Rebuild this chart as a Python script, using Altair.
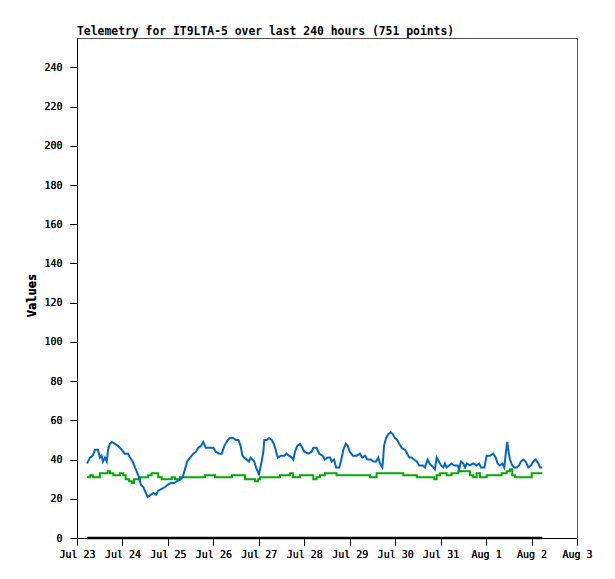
import altair as alt
import pandas as pd

# hours since Jul 23 00:00
blue_hours = [5.3, 6.9, 8.3, 9.5, 11.1, 12.1, 13.0, 13.7, 14.8, 15.7, 16.4, 17.4, 18.5, 20.1, 21.6, 23.6,
              25.3, 26.9, 28.0, 29.4, 30.6, 31.5, 32.7, 33.8, 35.0, 36.3, 37.3, 38.9, 40.3, 41.7, 42.8,
              44.7, 46.5, 47.7, 49.5, 51.2, 53.0, 54.8, 55.8, 57.0, 58.2, 59.7, 61.4, 62.8, 64.0, 65.5,
              66.7, 68.0, 70.2, 72.0, 73.2, 75.0, 76.4, 77.8, 79.6, 80.8, 82.5, 83.8, 85.2, 86.4, 87.3,
              88.3, 89.6, 90.8, 91.7, 92.6, 93.6, 94.5, 95.4, 96.1, 96.6, 97.5, 98.4, 98.9, 100.2, 101.4,
              102.8, 104.0, 104.9, 106.0, 107.7, 109.5, 110.7, 111.9, 113.4, 114.2, 115.1, 116.3, 117.7,
              119.0, 120.0, 122.1, 123.9, 124.8, 126.5, 127.9, 129.7, 130.9, 132.2, 133.6, 134.5, 135.7,
              136.8, 138.5, 139.8, 140.6, 141.9, 142.9, 144.1, 145.6, 147.7, 149.4, 150.6, 152.1, 153.3,
              155.1, 156.5, 157.9, 159.1, 160.0, 161.2, 161.7, 162.1, 163.2, 164.4, 165.6, 166.7, 167.9,
              169.1, 170.2, 171.4, 173.2, 174.4, 175.5, 176.7, 177.9, 179.4, 180.7, 182.5, 183.7, 185.1,
              186.1, 188.1, 189.0, 189.9, 191.1, 192.2, 193.4, 194.3, 195.2, 196.4, 197.8, 199.2, 201.0,
              201.7, 202.8, 204.0, 204.9, 205.8, 207.5, 209.2, 211.0, 212.3, 213.3, 215.1, 216.3, 218.1,
              219.8, 221.1, 222.1, 223.3, 224.6, 225.6, 226.5, 227.2, 227.7, 228.6, 229.8, 230.9, 232.2,
              233.4, 234.4, 235.6, 236.9, 238.3, 239.7, 240.9, 242.2, 243.6, 244.5, 245.7]
blue_values = [38, 41, 42, 45, 45, 41, 42, 39, 41, 39, 45, 48, 49, 48, 47, 45,
               43, 43, 41, 39, 36, 34, 31, 27, 26, 23, 21, 22, 23, 22, 24,
               25, 26, 27, 28, 28, 29, 30, 31, 35, 39, 41, 43, 44, 46, 47,
               49, 46, 46, 46, 44, 43, 43, 47, 50, 51, 51, 50, 50, 47, 42,
               41, 40, 39, 41, 40, 39, 36, 34, 32, 35, 39, 44, 50, 50, 51,
               50, 48, 45, 41, 42, 42, 43, 42, 41, 40, 44, 47, 48,
               46, 44, 43, 44, 46, 46, 43, 42, 40, 41, 41, 39, 40,
               36, 36, 41, 45, 48, 47, 44, 42, 42, 43, 41, 42, 40,
               40, 39, 39, 41, 38, 36, 41, 47, 51, 53, 54, 53, 51,
               50, 48, 46, 45, 43, 41, 41, 40, 39, 37, 37, 36, 40,
               38, 36, 35, 41, 39, 37, 36, 38, 36, 37, 38, 37, 37,
               35, 39, 38, 36, 38, 37, 38, 37, 38, 36, 36, 42, 42,
               43, 41, 38, 37, 38, 36, 44, 49, 45, 40, 37, 36, 36,
               37, 39, 40, 39, 36, 37, 39, 40, 38, 36, 36]

green_hours = [5.3, 6.9, 8.4, 12.1, 16.2, 17.4, 19.2, 22.7, 24.4, 25.7, 27.5, 28.9, 30.1, 33.3, 37.6,
               39.4, 42.9, 44.7, 50.0, 51.7, 54.4, 67.6, 72.9, 81.8, 88.7, 94.0, 95.6, 96.6, 107.2,
               112.5, 114.0, 117.7, 124.8, 126.5, 128.3, 130.9, 137.1, 154.7, 158.2, 172.3, 179.4,
               188.6, 189.9, 191.7, 195.2, 197.8, 201.3, 207.5, 209.2, 211.0, 212.8, 216.3, 224.2,
               226.9, 228.6, 229.8, 231.2, 240.1, 245.7]
green_values = [31, 32, 31, 33, 34, 33, 32, 33, 32, 30, 29, 28, 30, 31, 32,
                33, 31, 30, 31, 30, 31, 32, 31, 32, 30, 29, 30, 31, 32,
                33, 31, 32, 30, 31, 32, 33, 32, 31, 33, 32, 31,
                30, 32, 33, 32, 33, 34, 32, 31, 33, 31, 32, 33,
                34, 35, 32, 31, 33, 33]

zero_hours = [5.3, 245.7]
zero_values = [0, 0]

tick_hours = [0, 24, 48, 72, 96, 120, 144, 168, 192, 216, 240, 264]
tick_labels = ["Jul 23", "Jul 24", "Jul 25", "Jul 26", "Jul 27", "Jul 28", "Jul 29",
               "Jul 30", "Jul 31", "Aug 1", "Aug 2", "Aug 3"]
y_ticks = list(range(0, 241, 20))

blue_df = pd.DataFrame({"h": blue_hours, "v": blue_values})
green_df = pd.DataFrame({"h": green_hours, "v": green_values})
zero_df = pd.DataFrame({"h": zero_hours, "v": zero_values})

label_js = "[" + ",".join("'%s'" % t for t in tick_labels) + "]"

mono = "DejaVu Sans Mono"

x_scale = alt.Scale(domain=[0, 264], nice=False, zero=False)
y_scale = alt.Scale(domain=[0, 255], nice=False)

x_enc = alt.X("h:Q", scale=x_scale,
              axis=alt.Axis(values=tick_hours, labelExpr=label_js + "[round(datum.value/24)]",
                            title=None, grid=False, domainColor="black", tickColor="black",
                            tickSize=7, labelPadding=4, labelFont=mono, labelFontSize=10,
                            labelColor="black", labelFlush=False, labelOverlap=False))
y_enc = alt.Y("v:Q", scale=y_scale,
              axis=alt.Axis(values=y_ticks, title="Values", grid=False, domainColor="black",
                            tickColor="black", tickSize=7, labelPadding=8, labelFont=mono,
                            labelFontSize=10, labelColor="black", titleFont=mono,
                            titleFontSize=12, titleFontWeight="bold", titleColor="black",
                            titleX=-46, titleY=257, titleAngle=270, titleAlign="center",
                            titleBaseline="middle"))

# frame on top and right as bare axes
x_top = alt.X("h:Q", scale=x_scale,
              axis=alt.Axis(orient="top", labels=False, ticks=False, title=None, grid=False,
                            domainColor="#555555"))
y_right = alt.Y("v:Q", scale=y_scale,
                axis=alt.Axis(orient="right", labels=False, ticks=False, title=None, grid=False,
                              domainColor="#555555"))

blue = alt.Chart(blue_df).mark_line(color="#0066CC", strokeWidth=2).encode(x=x_enc, y=y_enc)
green = alt.Chart(green_df).mark_line(color="#00AA00", strokeWidth=2, interpolate="step-after").encode(x=x_top, y=y_right)
zero = alt.Chart(zero_df).mark_line(color="black", strokeWidth=2.5).encode(x=x_enc, y=y_enc)

chart = alt.layer(green, blue, zero).resolve_axis(x="independent", y="independent").properties(
    width=500, height=500,
    title=alt.TitleParams("Telemetry for IT9LTA-5 over last 240 hours (751 points)",
                          anchor="start", frame="group", font=mono, fontSize=11.4,
                          fontWeight="bold", color="black", offset=3, dy=2),
    autosize=alt.AutoSizeParams(type="none"),
    padding={"left": 69, "top": 30, "right": 30, "bottom": 33},
).configure_view(stroke=None).configure(background="white")

chart.save("out.html", embed_options={"renderer": "svg", "actions": False})
